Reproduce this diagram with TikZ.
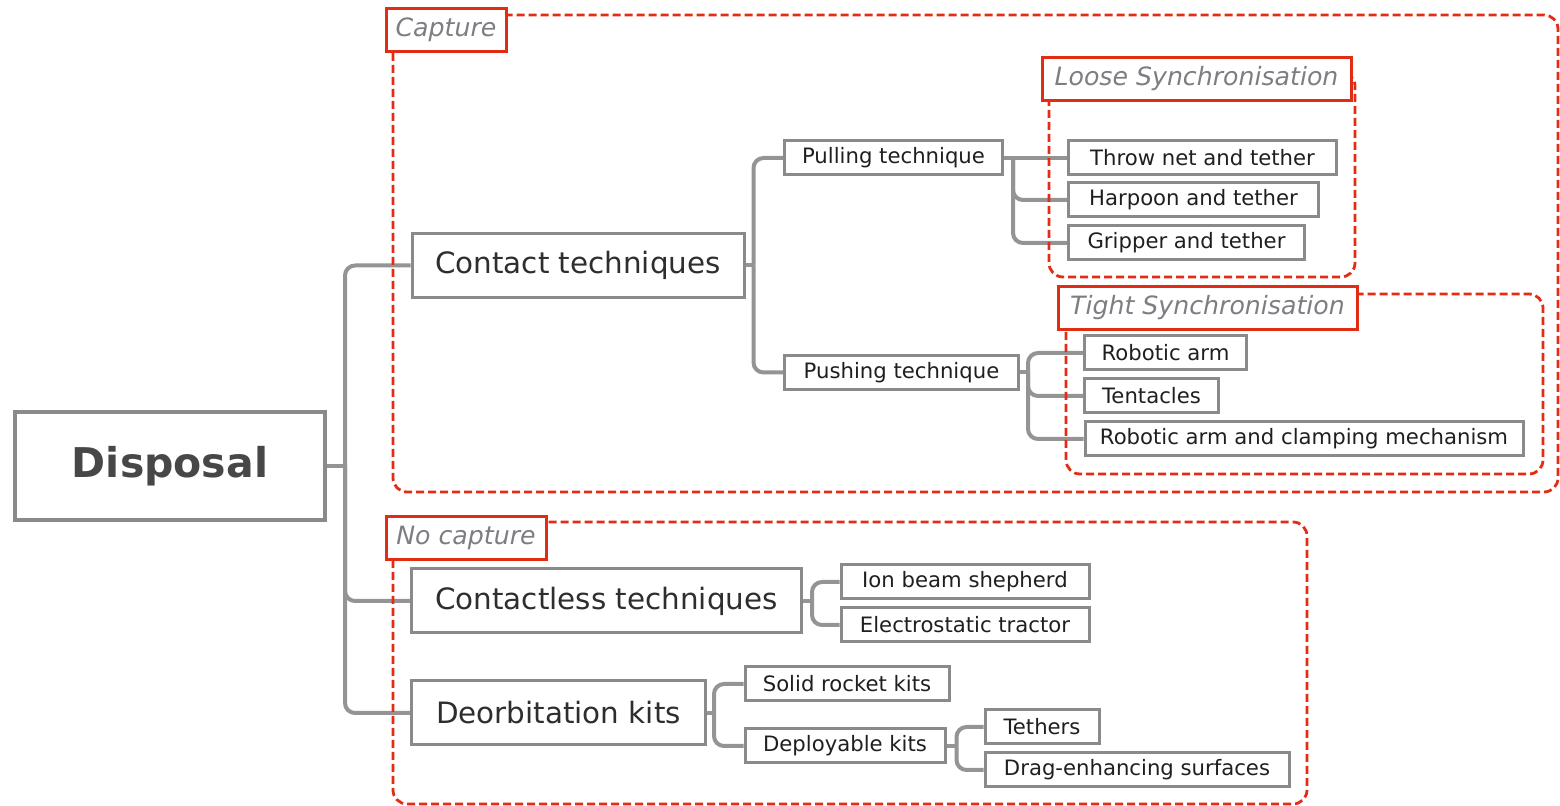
\documentclass[tikz,border=0pt]{standalone}
\usepackage{fontspec}
\setmainfont{DejaVu Sans}
\usetikzlibrary{positioning}

\definecolor{linegray}{RGB}{148,148,148}
\definecolor{boxgray}{RGB}{138,138,138}
\definecolor{groupred}{RGB}{226,44,20}
\definecolor{tagtext}{RGB}{125,125,132}

\begin{document}
\begin{tikzpicture}[x=0.5pt, y=-0.5pt,
    % Node styles
    root/.style={rectangle, draw=boxgray, line width=2pt, fill=white, minimum width=155pt, minimum height=54pt, font=\fontsize{20.5}{25}\selectfont\bfseries, text=black!72},
    branch/.style={rectangle, draw=boxgray, line width=1.5pt, fill=white, minimum height=32pt, font=\fontsize{14.7}{17}\selectfont, text=black!82},
    leaf/.style={rectangle, draw=boxgray, line width=1.5pt, fill=white, minimum height=17pt, inner sep=0pt, font=\fontsize{10.6}{12}\selectfont, text=black!88},
    tag/.style={rectangle, draw=groupred, line width=1.5pt, fill=white, minimum height=21.5pt, inner sep=0pt, font=\fontsize{12.6}{15}\selectfont\itshape, text=tagtext},
    % Edge and frame styles
    link/.style={draw=linegray, line width=2pt, rounded corners=5pt},
    group/.style={draw=groupred, line width=1.4pt, dash pattern=on 4pt off 2pt, rounded corners=7pt}
]
\useasboundingbox (0,0) rectangle (1560,806);
% Root
\node[root] (disposal) at (170,466) {Disposal};
% Capture branch
\node[branch, minimum width=166pt] (contact) at (578,265.5) {Contact techniques};
\node[leaf, minimum width=109pt] (pulling) at (893.5,158) {Pulling technique};
\node[leaf, minimum width=117pt] (pushing) at (901.5,372.5) {Pushing technique};
\node[leaf, minimum width=134pt] (thrownet) at (1202.5,158) {Throw net and tether};
\node[leaf, minimum width=125pt] (harpoon) at (1193.5,200) {Harpoon and tether};
\node[leaf, minimum width=118pt] (gripper) at (1186.5,243) {Gripper and tether};
\node[leaf, minimum width=81pt] (roboarm) at (1165.5,353) {Robotic arm};
\node[leaf, minimum width=67pt] (tentacles) at (1151.5,396) {Tentacles};
\node[leaf, minimum width=219pt] (clamping) at (1304,439) {Robotic arm and clamping mechanism};
% No capture branch
\node[branch, minimum width=195pt] (contactless) at (606.5,601) {Contactless techniques};
\node[leaf, minimum width=124pt] (ionbeam) at (965,582) {Ion beam shepherd};
\node[leaf, minimum width=124pt] (electro) at (965,625) {Electrostatic tractor};
\node[branch, minimum width=147pt] (deorbit) at (558.5,713) {Deorbitation kits};
\node[leaf, minimum width=102pt] (solid) at (847,684) {Solid rocket kits};
\node[leaf, minimum width=100pt] (deploy) at (845,746) {Deployable kits};
\node[leaf, minimum width=57pt] (tethers) at (1042,727) {Tethers};
\node[leaf, minimum width=152pt] (drag) at (1137,770) {Drag-enhancing surfaces};
% Links
\draw[link] (disposal.east) -- ++(18,0) coordinate (j0);
\foreach \c in {contact,contactless,deorbit}
    \draw[link] (j0) |- (\c.west);
\draw[link] (contact.east) -- ++(8,0) coordinate (j1);
\foreach \c in {pulling,pushing}
    \draw[link] (j1) |- (\c.west);
\draw[link] (pulling.east) -- (thrownet.west);
\path (pulling.east) -- ++(9,0) coordinate (j2);
\foreach \c in {harpoon,gripper}
    \draw[link] (j2) |- (\c.west);
\draw[link] (pushing.east) -- ++(8,0) coordinate (j3);
\foreach \c in {roboarm,tentacles,clamping}
    \draw[link] (j3) |- (\c.west);
\draw[link] (contactless.east) -- ++(9,0) coordinate (j4);
\foreach \c in {ionbeam,electro}
    \draw[link] (j4) |- (\c.west);
\draw[link] (deorbit.east) -- ++(7,0) coordinate (j5);
\foreach \c in {solid,deploy}
    \draw[link] (j5) |- (\c.west);
\draw[link] (deploy.east) -- ++(10,0) coordinate (j6);
\foreach \c in {tethers,drag}
    \draw[link] (j6) |- (\c.west);
% Dashed groups
\draw[group] (393,15) rectangle (1558,492);
\draw[group] (1049,72) rectangle (1355,277);
\draw[group] (1066,294) rectangle (1543,474);
\draw[group] (393,522) rectangle (1307,804);
% Group tags
\node[tag, minimum width=60pt] (capture) at (446,30) {Capture};
\node[tag, minimum width=154.5pt] (loose) at (1196.5,79) {Loose Synchronisation};
\node[tag, minimum width=149.5pt] (tight) at (1207.5,308) {Tight Synchronisation};
\node[tag, minimum width=80pt] (nocapture) at (466,538) {No capture};
\end{tikzpicture}
\end{document}
